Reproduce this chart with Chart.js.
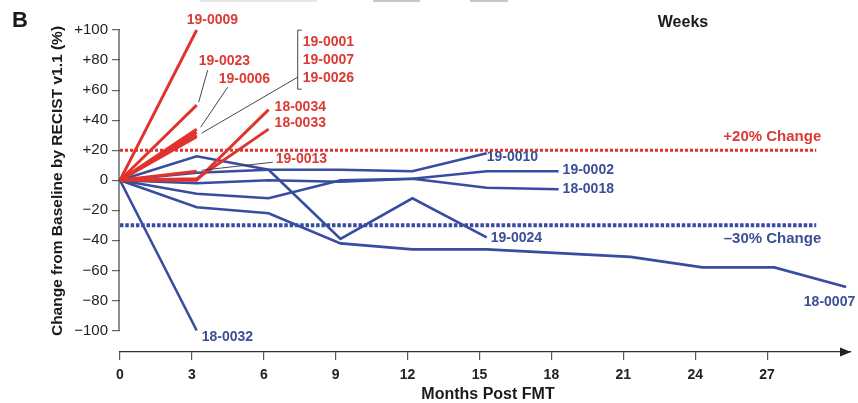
<!DOCTYPE html>
<html>
<head>
<meta charset="utf-8">
<script src="https://cdn.jsdelivr.net/npm/chart.js@4.4.0/dist/chart.umd.min.js"></script>
<style>
  body { margin: 0; background: #fff; }
  .chart-container { width: 858px; height: 403px; }
</style>
</head>
<body>
<div class="chart-container">
  <canvas id="chart" width="858" height="403"></canvas>
</div>
<script>
// months post FMT for each scan
const months = [0, 3.2, 6.2, 9.2, 12.2, 15.3, 18.3, 21.3, 24.3, 27.3, 30.3];

// % change from baseline (RECIST v1.1), progressors
const p19_0009 = [0, 100];
const p19_0023 = [0, 50];
const p19_0006 = [0, 34];
const p19_0001 = [0, 32];
const p19_0007 = [0, 30];
const p19_0026 = [0, 29];
const p19_0013 = [0, 6];
const p18_0034 = [0, 0, 47];
const p18_0033 = [0, 1, 34];

// responders / stable
const p19_0010 = [0, 5, 7, 7, 6, 18];
const p19_0002 = [0, -9, -12, 0, 1, 6, 6];
const p18_0018 = [0, -2, 0, -1, 1, -5, -6];
const p19_0024 = [0, 16, 7, -39, -12, -38];
const p18_0007 = [0, -18, -22, -42, -46, -46, -48.5, -51, -58, -58, -71];
const p18_0032 = [0, -100];

const xTicks = [0, 3, 6, 9, 12, 15, 18, 21, 24, 27];
const yTicks = [-100, -80, -60, -40, -20, 0, 20, 40, 60, 80, 100];

const upperCut = 20;
const lowerCut = -30;
const cutEnd = 29.05;

const RED = '#e1322d';
const BLUE = '#384ca0';
const RED_TXT = '#dc3a35';
const BLUE_TXT = '#3b4f97';

const series = [
  { id: '19-0009', values: p19_0009, color: RED },
  { id: '19-0023', values: p19_0023, color: RED },
  { id: '19-0006', values: p19_0006, color: RED },
  { id: '19-0001', values: p19_0001, color: RED },
  { id: '19-0007', values: p19_0007, color: RED },
  { id: '19-0026', values: p19_0026, color: RED },
  { id: '19-0013', values: p19_0013, color: RED },
  { id: '18-0034', values: p18_0034, color: RED },
  { id: '18-0033', values: p18_0033, color: RED },
  { id: '19-0010', values: p19_0010, color: BLUE },
  { id: '19-0002', values: p19_0002, color: BLUE },
  { id: '18-0018', values: p18_0018, color: BLUE },
  { id: '19-0024', values: p19_0024, color: BLUE },
  { id: '18-0007', values: p18_0007, color: BLUE },
  { id: '18-0032', values: p18_0032, color: BLUE }
];

// label offsets (px) from each series' last point
const labelSpots = [
  { id: '19-0009', dx: -10, dy: -10, color: RED_TXT },
  { id: '19-0023', dx: 2, dy: -44, color: RED_TXT },
  { id: '19-0006', dx: 22, dy: -50, color: RED_TXT },
  { id: '18-0034', dx: 6, dy: -2, color: RED_TXT },
  { id: '18-0033', dx: 6, dy: -6, color: RED_TXT },
  { id: '19-0013', dx: 79, dy: -12, color: RED_TXT },
  { id: '19-0010', dx: 0, dy: 4, color: BLUE_TXT },
  { id: '19-0002', dx: 4, dy: -1, color: BLUE_TXT },
  { id: '18-0018', dx: 4, dy: 0, color: BLUE_TXT },
  { id: '19-0024', dx: 4, dy: 1, color: BLUE_TXT },
  { id: '18-0007', dx: 9, dy: 15, color: BLUE_TXT, align: 'right' },
  { id: '18-0032', dx: 5, dy: 7, color: BLUE_TXT }
];

const leaders = [
  { id: '19-0023', from: [2, -3], to: [11, -35] },
  { id: '19-0006', from: [4, -2], to: [31, -42] },
  { id: '19-0001', from: [5, 1], to: [101, -55] },
  { id: '19-0013', from: [5, -1], to: [76, -9] }
];

const bracketIds = ['19-0001', '19-0007', '19-0026'];

const datasets = series.map(s => ({
  label: s.id,
  data: s.values.map((v, i) => ({ x: months[i], y: v })),
  borderColor: s.color,
  borderWidth: s.color === RED ? 2.9 : 2.6,
  pointRadius: 0,
  tension: 0,
  clip: false
}));

datasets.push({
  label: '+20%',
  data: [{ x: 0, y: upperCut }, { x: cutEnd, y: upperCut }],
  borderColor: RED,
  borderWidth: 3,
  borderDash: [3, 2],
  pointRadius: 0
});
datasets.push({
  label: '-30%',
  data: [{ x: 0, y: lowerCut }, { x: cutEnd, y: lowerCut }],
  borderColor: BLUE,
  borderWidth: 4,
  borderDash: [3.5, 1.8],
  pointRadius: 0
});

const lastPoint = (chart, id) => {
  const s = series.find(d => d.id === id);
  const i = s.values.length - 1;
  return [chart.scales.x.getPixelForValue(months[i]), chart.scales.y.getPixelForValue(s.values[i])];
};

const overlay = {
  id: 'overlay',
  afterDraw(chart) {
    const { ctx, scales: { x, y } } = chart;
    ctx.save();

    // y axis line only over the tick range
    ctx.strokeStyle = '#444';
    ctx.lineWidth = 1.2;
    ctx.beginPath();
    ctx.moveTo(x.left - 1, y.getPixelForValue(100));
    ctx.lineTo(x.left - 1, y.getPixelForValue(-100));
    ctx.stroke();

    // arrow at end of x axis
    ctx.fillStyle = '#222';
    ctx.beginPath();
    ctx.moveTo(x.right, y.bottom);
    ctx.lineTo(x.right - 11, y.bottom - 4.5);
    ctx.lineTo(x.right - 11, y.bottom + 4.5);
    ctx.closePath();
    ctx.fill();

    // patient labels
    ctx.font = 'bold 14px "Liberation Sans", Arial, sans-serif';
    ctx.textBaseline = 'middle';
    labelSpots.forEach(l => {
      const [px, py] = lastPoint(chart, l.id);
      ctx.fillStyle = l.color;
      ctx.textAlign = l.align || 'left';
      ctx.fillText(l.id, px + l.dx, py + l.dy);
    });

    // bracketed group
    const [bx, by] = lastPoint(chart, bracketIds[0]);
    ctx.textAlign = 'left';
    ctx.fillStyle = RED_TXT;
    bracketIds.forEach((id, i) => ctx.fillText(id, bx + 106, by - 90 + i * 18));
    ctx.strokeStyle = '#333';
    ctx.lineWidth = 0.9;
    ctx.beginPath();
    ctx.moveTo(bx + 105, by - 102);
    ctx.lineTo(bx + 101, by - 102);
    ctx.lineTo(bx + 101, by - 43);
    ctx.lineTo(bx + 105, by - 43);
    ctx.stroke();

    // leader lines
    leaders.forEach(l => {
      const [px, py] = lastPoint(chart, l.id);
      ctx.beginPath();
      ctx.moveTo(px + l.from[0], py + l.from[1]);
      ctx.lineTo(px + l.to[0], py + l.to[1]);
      ctx.stroke();
    });

    // threshold labels
    ctx.font = 'bold 15px "Liberation Sans", Arial, sans-serif';
    ctx.textAlign = 'right';
    ctx.fillStyle = RED_TXT;
    ctx.fillText('+20% Change', x.getPixelForValue(cutEnd) + 5, y.getPixelForValue(upperCut) - 13);
    ctx.fillStyle = BLUE_TXT;
    ctx.fillText('\u201330% Change', x.getPixelForValue(cutEnd) + 5, y.getPixelForValue(lowerCut) + 14);

    // titles
    ctx.fillStyle = '#1a1a1a';
    ctx.textAlign = 'center';
    ctx.font = 'bold 16px "Liberation Sans", Arial, sans-serif';
    ctx.fillText('Months Post FMT', 488, 395);
    ctx.fillText('Weeks', 683, 23);
    ctx.textAlign = 'left';
    ctx.font = 'bold 22px "Liberation Sans", Arial, sans-serif';
    ctx.fillText('B', 12, 21);

    ctx.save();
    ctx.translate(58, 181);
    ctx.rotate(-Math.PI / 2);
    ctx.textAlign = 'center';
    ctx.font = 'bold 15.5px "Liberation Sans", Arial, sans-serif';
    ctx.fillText('Change from Baseline by RECIST v1.1 (%)', 0, 0);
    ctx.restore();

    // cut-off edge of the panel above
    ctx.fillStyle = '#e6e6e6';
    ctx.fillRect(200, 0, 117, 2);
    ctx.fillStyle = '#c8c8c8';
    ctx.fillRect(373, 0, 47, 2);
    ctx.fillRect(470, 0, 38, 2);

    ctx.restore();
  }
};

const ctx = document.getElementById('chart').getContext('2d');
Chart.defaults.font.family = '"Liberation Sans", Arial, sans-serif';

new Chart(ctx, {
  type: 'line',
  data: { datasets },
  options: {
    responsive: false,
    animation: false,
    layout: { padding: { top: 30, right: 7, bottom: 0, left: 0 } },
    plugins: { legend: { display: false }, tooltip: { enabled: false } },
    scales: {
      x: {
        type: 'linear',
        min: 0,
        max: 30.5,
        afterFit: scale => { scale.height = 51; },
        afterBuildTicks: scale => { scale.ticks = xTicks.map(v => ({ value: v })); },
        grid: { drawOnChartArea: false, drawTicks: true, tickLength: 8, color: '#555', lineWidth: 1.2 },
        border: { display: true, color: '#333', width: 1.2 },
        ticks: {
          font: { size: 14, weight: 'bold' },
          color: '#222',
          padding: 7,
          maxRotation: 0,
          autoSkip: false
        }
      },
      y: {
        type: 'linear',
        min: -114.3,
        max: 100,
        afterFit: scale => { scale.width = 120; },
        afterBuildTicks: scale => { scale.ticks = yTicks.map(v => ({ value: v })); },
        grid: { drawOnChartArea: false, drawTicks: true, tickLength: 8, color: '#666', lineWidth: 1.2 },
        border: { display: false },
        ticks: {
          font: { size: 15 },
          color: '#222',
          padding: 4,
          callback: v => v > 0 ? '+' + v : (v < 0 ? '\u2212' + (-v) : '0')
        }
      }
    }
  },
  plugins: [overlay]
});
</script>
</body>
</html>
